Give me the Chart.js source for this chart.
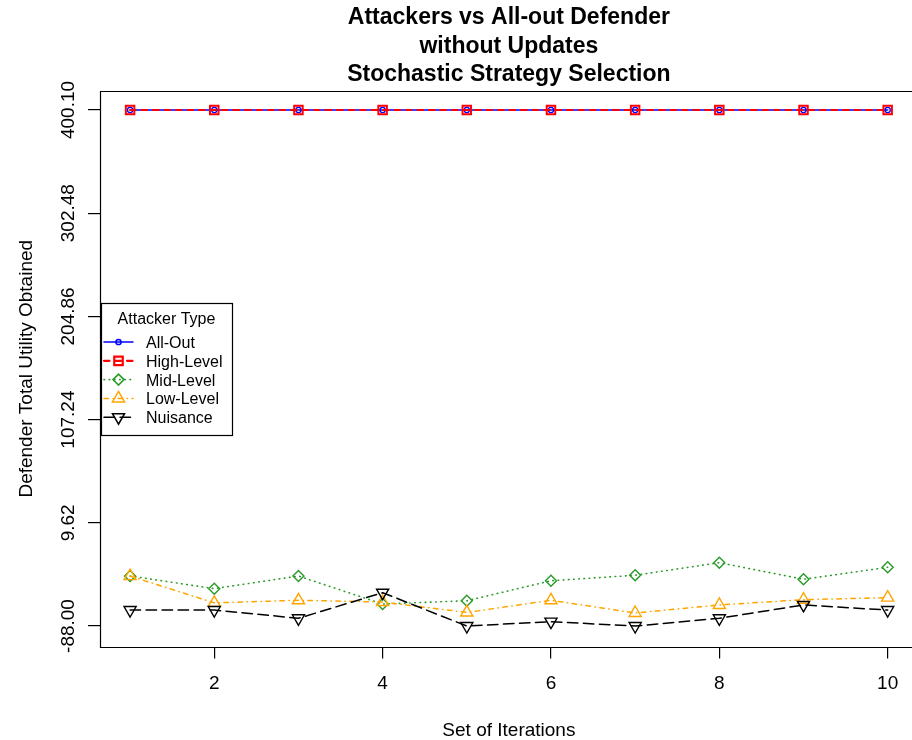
<!DOCTYPE html>
<html>
<head>
<meta charset="utf-8">
<title>Attackers vs All-out Defender</title>
<script src="https://cdn.jsdelivr.net/npm/chart.js@4.4.1/dist/chart.umd.min.js"></script>
<style>
  html, body { margin: 0; padding: 0; background: #ffffff; overflow: hidden; }
  canvas { display: block; }
</style>
</head>
<body>
<canvas id="chart" width="912" height="740"></canvas>
<script>
// ---- data ----
const iterations = [1, 2, 3, 4, 5, 6, 7, 8, 9, 10];
const allOut    = [400.1, 400.1, 400.1, 400.1, 400.1, 400.1, 400.1, 400.1, 400.1, 400.1];
const highLevel = [400.1, 400.1, 400.1, 400.1, 400.1, 400.1, 400.1, 400.1, 400.1, 400.1];
const midLevel  = [-40.7, -52.7, -40.7, -67.2, -64.1, -45.2, -40.0, -28.1, -43.8, -32.5];
const lowLevel  = [-40.8, -66.1, -63.7, -65.3, -75.2, -63.7, -75.7, -68.1, -63.1, -61.2];
const nuisance  = [-72.9, -72.9, -80.7, -56.5, -88.0, -83.9, -88.0, -80.7, -68.1, -72.9];

const seriesNames = ['All-Out', 'High-Level', 'Mid-Level', 'Low-Level', 'Nuisance'];
const seriesValues = [allOut, highLevel, midLevel, lowLevel, nuisance];

const xTicks = [2, 4, 6, 8, 10];
const yTicks = [-88.00, 9.62, 107.24, 204.86, 302.48, 400.10];

const titleLines = ['Attackers vs All-out Defender', 'without Updates', 'Stochastic Strategy Selection'];
const xTitle = 'Set of Iterations';
const yTitle = 'Defender Total Utility Obtained';
const legendTitle = 'Attacker Type';

// ---- look ----
const FONT = '"Liberation Sans", Arial, Helvetica, sans-serif';
const seriesStyle = [
  { color: '#0000ff', dash: [],                   width: 1.5, point: 'circle',   radius: 2.6, rot: 0,   pw: 1.3 },
  { color: '#ff0000', dash: [5.5, 6],             width: 2.2, point: 'rect',     radius: 6,   rot: 0,   pw: 2.0 },
  { color: '#2a9a2a', dash: [0.6, 4.6],           width: 1.6, point: 'rectRot',  radius: 5.5, rot: 0,   pw: 1.4 },
  { color: '#ffa500', dash: [4.5, 4.5, 0.5, 4.5], width: 1.5, point: 'triangle', radius: 7,   rot: 0,   pw: 1.4 },
  { color: '#000000', dash: [10.5, 5.5],          width: 1.5, point: 'triangle', radius: 7,   rot: 180, pw: 1.4 }
];

const datasets = seriesNames.map((name, i) => {
  const s = seriesStyle[i];
  return {
    label: name,
    data: iterations.map((x, k) => ({ x: x, y: seriesValues[i][k] })),
    borderColor: s.color,
    borderWidth: s.width,
    borderDash: s.dash,
    borderCapStyle: 'round',
    borderJoinStyle: 'round',
    tension: 0,
    fill: false,
    pointStyle: s.point,
    pointRotation: s.rot,
    pointRadius: s.radius,
    pointBorderWidth: s.pw,
    pointBorderColor: s.color,
    pointBackgroundColor: 'rgba(0,0,0,0)',
    order: seriesNames.length - i   // later series are drawn on top
  };
});

// frame, rotated y labels, titles and legend
const decorations = {
  id: 'decorations',
  afterDraw(chart) {
    const ctx = chart.ctx;
    const area = chart.chartArea;
    const yScale = chart.scales.y;
    const xScale = chart.scales.x;
    ctx.save();

    // plot frame (its right side lies past the canvas edge)
    ctx.strokeStyle = '#000';
    ctx.lineWidth = 1.2;
    ctx.setLineDash([]);
    ctx.beginPath();
    ctx.moveTo(area.right + 2, Math.round(area.top) + 0.5);
    ctx.lineTo(Math.round(area.left) + 0.5, Math.round(area.top) + 0.5);
    ctx.lineTo(Math.round(area.left) + 0.5, Math.round(area.bottom) + 0.5);
    ctx.lineTo(area.right + 2, Math.round(area.bottom) + 0.5);
    ctx.stroke();

    // y tick labels, rotated along the axis
    ctx.fillStyle = '#000';
    ctx.font = '19px ' + FONT;
    ctx.textAlign = 'center';
    ctx.textBaseline = 'alphabetic';
    yTicks.forEach(v => {
      const y = yScale.getPixelForValue(v);
      ctx.save();
      ctx.translate(73.5, y);
      ctx.rotate(-Math.PI / 2);
      ctx.fillText(v.toFixed(2), 0, 0);
      ctx.restore();
    });

    // axis titles
    const midX = (xScale.getPixelForValue(0.64) + xScale.getPixelForValue(10.36)) / 2;
    const midY = (area.top + area.bottom) / 2;
    ctx.fillText(xTitle, midX, 736);
    ctx.save();
    ctx.translate(32, midY);
    ctx.rotate(-Math.PI / 2);
    ctx.fillText(yTitle, 0, 0);
    ctx.restore();

    // main title
    ctx.font = 'bold 23px ' + FONT;
    titleLines.forEach((t, i) => ctx.fillText(t, midX, 24 + i * 28.5));

    // legend box
    const lx = 101.5, ly = 303.5, lw = 131, lh = 132;
    ctx.fillStyle = '#fff';
    ctx.fillRect(lx, ly, lw, lh);
    ctx.strokeStyle = '#000';
    ctx.lineWidth = 1.2;
    ctx.strokeRect(lx, ly, lw, lh);
    ctx.fillStyle = '#000';
    ctx.font = '16px ' + FONT;
    ctx.textAlign = 'center';
    ctx.fillText(legendTitle, 166.5, 324);
    ctx.textAlign = 'left';
    seriesNames.forEach((name, i) => {
      const s = seriesStyle[i];
      const y = 342 + i * 18.8;
      ctx.strokeStyle = s.color;
      ctx.lineWidth = s.width;
      ctx.lineCap = 'round';
      ctx.setLineDash(s.dash);
      ctx.beginPath();
      ctx.moveTo(104, y);
      ctx.lineTo(133, y);
      ctx.stroke();
      ctx.setLineDash([]);
      ctx.fillStyle = 'rgba(0,0,0,0)';
      Chart.helpers.drawPoint(ctx, {
        pointStyle: s.point, rotation: s.rot, radius: s.radius, borderWidth: s.pw
      }, 118.5, y);
      ctx.fillStyle = '#000';
      ctx.fillText(name, 146, y + 6);
    });
    ctx.restore();
  }
};

new Chart(document.getElementById('chart'), {
  type: 'line',
  data: { datasets: datasets },
  options: {
    responsive: false,
    devicePixelRatio: 1,
    animation: false,
    events: [],
    layout: { autoPadding: false, padding: { top: 91, left: 0, right: 0, bottom: 0 } },
    plugins: { legend: { display: false }, title: { display: false }, tooltip: { enabled: false } },
    scales: {
      x: {
        type: 'linear',
        min: 0.6425,
        max: 10.289,
        afterBuildTicks(scale) { scale.ticks = xTicks.map(v => ({ value: v })); },
        afterFit(scale) {
          scale.height = 93.5;
          scale.paddingLeft = 0; scale.paddingRight = 0;
          scale.paddingTop = 0; scale.paddingBottom = 0;
        },
        border: { display: false },
        grid: { drawOnChartArea: false, drawTicks: true, tickLength: 12, color: '#000', lineWidth: 1.2 },
        ticks: {
          autoSkip: false, maxRotation: 0, padding: 14, color: '#000',
          font: { family: FONT, size: 19 },
          callback: v => String(v)
        }
      },
      y: {
        type: 'linear',
        min: -107.39,
        max: 418.07,
        afterBuildTicks(scale) { scale.ticks = yTicks.map(v => ({ value: v })); },
        afterFit(scale) {
          scale.width = 100;
          scale.paddingLeft = 0; scale.paddingRight = 0;
          scale.paddingTop = 0; scale.paddingBottom = 0;
        },
        border: { display: false },
        grid: { drawOnChartArea: false, drawTicks: true, tickLength: 12, color: '#000', lineWidth: 1.2 },
        ticks: { display: false }
      }
    }
  },
  plugins: [decorations]
});
</script>
</body>
</html>
